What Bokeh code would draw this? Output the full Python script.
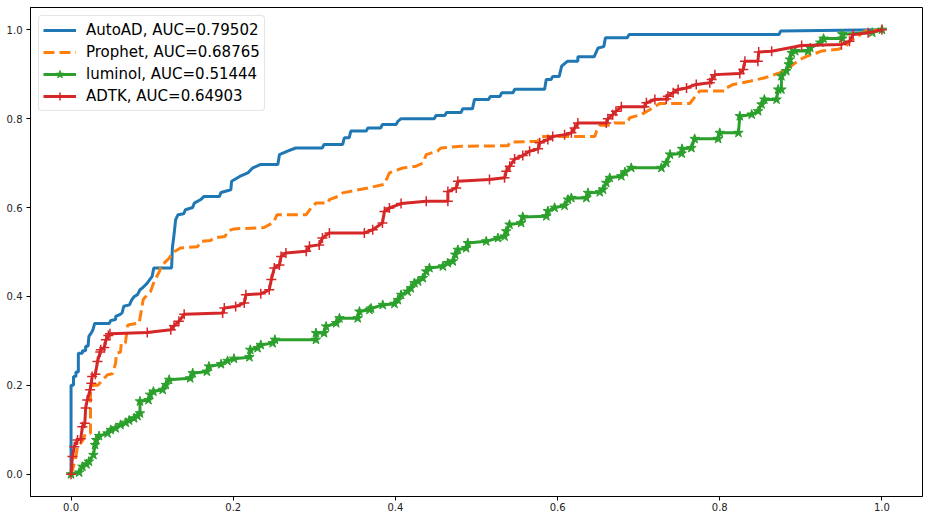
from bokeh.plotting import figure
from bokeh.models import Range1d, FixedTicker, PrintfTickFormatter, Legend, LegendItem
from bokeh.embed import file_html
from bokeh.resources import INLINE

# ---- data ----
autoad_fpr = [0, 0, 0.003, 0.003, 0.006, 0.006, 0.009, 0.009, 0.014, 0.014, 0.018, 0.018, 0.021, 0.022,
              0.025, 0.027, 0.029, 0.047, 0.049, 0.055, 0.055, 0.06, 0.063, 0.065, 0.072, 0.075, 0.078,
              0.082, 0.085, 0.088, 0.094, 0.097, 0.1, 0.102, 0.124, 0.125, 0.127, 0.129, 0.132, 0.139,
              0.141, 0.15, 0.152, 0.16, 0.164, 0.183, 0.185, 0.197, 0.198, 0.208, 0.218, 0.224, 0.234,
              0.255, 0.257, 0.267, 0.277, 0.31, 0.312, 0.335, 0.337, 0.343, 0.345, 0.364, 0.366, 0.382,
              0.384, 0.401, 0.403, 0.407, 0.448, 0.45, 0.461, 0.463, 0.481, 0.483, 0.495, 0.4975, 0.515,
              0.517, 0.529, 0.531, 0.545, 0.547, 0.584, 0.586, 0.592, 0.594, 0.602, 0.605, 0.612, 0.625,
              0.625, 0.645, 0.65, 0.657, 0.659, 0.686, 0.688, 0.873, 0.875, 1.0]
autoad_tpr = [0, 0.2, 0.2, 0.22, 0.22, 0.23, 0.23, 0.272, 0.272, 0.278, 0.278, 0.288, 0.288, 0.31,
              0.318, 0.325, 0.339, 0.339, 0.346, 0.348, 0.355, 0.359, 0.363, 0.378, 0.381, 0.393, 0.4,
              0.404, 0.415, 0.419, 0.43, 0.438, 0.445, 0.464, 0.464, 0.51, 0.539, 0.573, 0.584, 0.586,
              0.595, 0.6, 0.61, 0.618, 0.625, 0.625, 0.634, 0.64, 0.659, 0.67, 0.678, 0.689, 0.697,
              0.697, 0.719, 0.727, 0.734, 0.734, 0.742, 0.742, 0.757, 0.757, 0.772, 0.772, 0.779, 0.779,
              0.787, 0.787, 0.794, 0.8, 0.8, 0.807, 0.807, 0.814, 0.814, 0.822, 0.822, 0.843, 0.843,
              0.85, 0.85, 0.858, 0.858, 0.866, 0.866, 0.888, 0.888, 0.895, 0.895, 0.918, 0.929, 0.929,
              0.939, 0.939, 0.959, 0.962, 0.982, 0.982, 0.989, 0.989, 0.997, 1.0]

prophet_fpr = [0, 0.005, 0.008, 0.014, 0.018, 0.024, 0.024, 0.027, 0.033, 0.038, 0.045, 0.051, 0.055,
               0.056, 0.061, 0.062, 0.067, 0.07, 0.084, 0.089, 0.094, 0.098, 0.1025, 0.109, 0.111, 0.117,
               0.121, 0.125, 0.135, 0.156, 0.16, 0.172, 0.1765, 0.19, 0.193, 0.201, 0.238, 0.25, 0.254,
               0.29, 0.296, 0.302, 0.3166, 0.3186, 0.329, 0.335, 0.366, 0.386, 0.3926, 0.409, 0.4255,
               0.434, 0.438, 0.452, 0.456, 0.481, 0.539, 0.541, 0.576, 0.578, 0.646, 0.648, 0.652, 0.666,
               0.67, 0.686, 0.689, 0.703, 0.7136, 0.726, 0.763, 0.775, 0.806, 0.808, 0.8166, 0.837,
               0.8556, 0.874, 0.882, 0.8906, 0.899, 0.907, 0.9256, 0.946, 0.956, 0.96, 0.971, 0.979, 1.0]
prophet_tpr = [0, 0.03, 0.062, 0.075, 0.092, 0.092, 0.19, 0.2, 0.2, 0.21, 0.224, 0.226, 0.25, 0.272,
               0.275, 0.295, 0.295, 0.336, 0.34, 0.393, 0.404, 0.411, 0.434, 0.456, 0.468, 0.479, 0.486,
               0.498, 0.509, 0.512, 0.524, 0.526, 0.532, 0.535, 0.547, 0.552, 0.555, 0.567, 0.584, 0.584,
               0.599, 0.61, 0.61, 0.618, 0.625, 0.633, 0.644, 0.652, 0.678, 0.689, 0.693, 0.7, 0.719,
               0.727, 0.734, 0.738, 0.739, 0.747, 0.749, 0.76, 0.76, 0.772, 0.785, 0.785, 0.79, 0.79,
               0.802, 0.809, 0.82, 0.834, 0.834, 0.862, 0.862, 0.869, 0.877, 0.884, 0.892, 0.903, 0.911,
               0.922, 0.933, 0.94, 0.952, 0.956, 0.963, 0.974, 0.986, 0.997, 1.0]

luminol_fpr = [0, 0.01, 0.014, 0.019, 0.022, 0.0276, 0.0296, 0.031, 0.0346, 0.045, 0.049, 0.055, 0.061,
               0.0675, 0.0716, 0.0778, 0.082, 0.085, 0.085, 0.0955, 0.0975, 0.1016, 0.113, 0.117, 0.121,
               0.147, 0.15, 0.1675, 0.17, 0.185, 0.193, 0.201, 0.22, 0.221, 0.23, 0.234, 0.2486, 0.2514,
               0.302, 0.302, 0.312, 0.3145, 0.327, 0.331, 0.3535, 0.3556, 0.368, 0.37, 0.3844, 0.3988,
               0.403, 0.407, 0.415, 0.419, 0.4235, 0.428, 0.4338, 0.438, 0.442, 0.4585, 0.4646, 0.4708,
               0.4737, 0.477, 0.4872, 0.4893, 0.512, 0.5264, 0.5346, 0.5366, 0.5407, 0.555, 0.557,
               0.5861, 0.588, 0.5963, 0.6086, 0.6128, 0.617, 0.6355, 0.6375, 0.652, 0.656, 0.66, 0.6643,
               0.6786, 0.683, 0.6908, 0.728, 0.734, 0.7386, 0.753, 0.7535, 0.765, 0.769, 0.798, 0.8,
               0.823, 0.8247, 0.8394, 0.8473, 0.8515, 0.855, 0.87, 0.872, 0.876, 0.876, 0.882, 0.885,
               0.8865, 0.8886, 0.893, 0.909, 0.9115, 0.924, 0.928, 0.951, 0.951, 0.988, 1.0]
luminol_tpr = [0, 0.004, 0.017, 0.0225, 0.0285, 0.0435, 0.066, 0.077, 0.086, 0.092, 0.0998, 0.1036,
               0.111, 0.116, 0.121, 0.126, 0.131, 0.137, 0.164, 0.167, 0.179, 0.186, 0.19, 0.201, 0.2125,
               0.216, 0.2275, 0.231, 0.2425, 0.2477, 0.255, 0.26, 0.2635, 0.28, 0.284, 0.291, 0.295,
               0.3026, 0.3026, 0.3176, 0.3176, 0.3325, 0.34, 0.351, 0.351, 0.366, 0.37, 0.373, 0.381,
               0.3835, 0.392, 0.4036, 0.411, 0.4186, 0.43, 0.4338, 0.4413, 0.4563, 0.464, 0.4676, 0.4752,
               0.479, 0.494, 0.505, 0.5087, 0.52, 0.524, 0.5315, 0.535, 0.5466, 0.5616, 0.5654, 0.579,
               0.5805, 0.592, 0.5995, 0.6043, 0.6178, 0.6216, 0.6216, 0.633, 0.6345, 0.6405, 0.6555,
               0.6668, 0.6705, 0.6795, 0.6893, 0.6893, 0.7005, 0.7193, 0.7215, 0.732, 0.734, 0.7545,
               0.7545, 0.768, 0.768, 0.8056, 0.8093, 0.8168, 0.832, 0.843, 0.843, 0.8655, 0.8655, 0.8955,
               0.907, 0.922, 0.933, 0.948, 0.952, 0.952, 0.959, 0.971, 0.98, 0.98, 0.99, 0.9935, 1.0]

adtk_fpr = [0, 0.0017, 0.004, 0.008, 0.012, 0.014, 0.017, 0.018, 0.02, 0.0235, 0.025, 0.026, 0.03,
            0.0326, 0.036, 0.0367, 0.041, 0.043, 0.046, 0.048, 0.094, 0.123, 0.127, 0.133, 0.1395, 0.187,
            0.189, 0.203, 0.2136, 0.2156, 0.234, 0.2444, 0.247, 0.2506, 0.257, 0.259, 0.265, 0.29, 0.294,
            0.306, 0.31, 0.3186, 0.3617, 0.372, 0.384, 0.3864, 0.3926, 0.407, 0.438, 0.4647, 0.4647,
            0.475, 0.477, 0.516, 0.5346, 0.5367, 0.541, 0.547, 0.557, 0.5655, 0.576, 0.578, 0.588, 0.594,
            0.6086, 0.617, 0.621, 0.625, 0.66, 0.662, 0.668, 0.672, 0.6786, 0.707, 0.7095, 0.72, 0.734,
            0.736, 0.7425, 0.7486, 0.759, 0.771, 0.7877, 0.79, 0.794, 0.8247, 0.829, 0.831, 0.847, 0.848,
            0.864, 0.901, 0.95, 0.96, 0.9645, 0.983, 1.0]
adtk_tpr = [0, 0.04, 0.062, 0.077, 0.08, 0.107, 0.115, 0.149, 0.167, 0.19, 0.205, 0.22, 0.225, 0.2536,
            0.275, 0.28, 0.285, 0.3025, 0.312, 0.316, 0.319, 0.325, 0.334, 0.344, 0.36, 0.3626, 0.374,
            0.3776, 0.385, 0.404, 0.406, 0.415, 0.438, 0.464, 0.471, 0.49, 0.498, 0.5015, 0.513, 0.516,
            0.5315, 0.543, 0.543, 0.55, 0.565, 0.591, 0.599, 0.609, 0.614, 0.614, 0.636, 0.644, 0.659,
            0.663, 0.667, 0.6815, 0.693, 0.709, 0.717, 0.7266, 0.732, 0.7455, 0.753, 0.76, 0.764, 0.768,
            0.779, 0.79, 0.79, 0.7995, 0.809, 0.8167, 0.8266, 0.8266, 0.8356, 0.843, 0.844, 0.8505,
            0.858, 0.8655, 0.869, 0.877, 0.8806, 0.888, 0.899, 0.9016, 0.9106, 0.929, 0.929, 0.95,
            0.9515, 0.9646, 0.967, 0.974, 0.989, 0.993, 1.0]

labels = ["AutoAD, AUC=0.79502", "Prophet, AUC=0.68765", "luminol, AUC=0.51444", "ADTK, AUC=0.64903"]
ticks = [0.0, 0.2, 0.4, 0.6, 0.8, 1.0]

BLUE, ORANGE, GREEN, RED = "#1f77b4", "#ff7f0e", "#2ca02c", "#d62728"

p = figure(width=928, height=518, output_backend="svg", toolbar_location=None,
           x_range=Range1d(-0.05, 1.05), y_range=Range1d(-0.05, 1.05),
           min_border_left=30, min_border_right=6, min_border_top=7, min_border_bottom=22)
p.background_fill_color = "white"
p.border_fill_color = "white"
p.outline_line_color = "black"
p.outline_line_width = 1
p.xgrid.visible = False
p.ygrid.visible = False

for ax in (p.xaxis[0], p.yaxis[0]):
    ax.ticker = FixedTicker(ticks=ticks)
    ax.formatter = PrintfTickFormatter(format="%.1f")
    ax.minor_tick_line_color = None
    ax.major_tick_in = 0
    ax.major_tick_out = 4
    ax.major_tick_line_color = "black"
    ax.axis_line_color = "black"
    ax.major_label_text_font = "DejaVu Sans"
    ax.major_label_text_font_size = "10px"
    ax.major_label_text_color = "#222222"
p.xaxis[0].major_label_standoff = 2
p.yaxis[0].major_label_standoff = 4

r_a = p.line(autoad_fpr, autoad_tpr, line_color=BLUE, line_width=3)
r_p = p.line(prophet_fpr, prophet_tpr, line_color=ORANGE, line_width=3, line_dash="11 5")
r_l = p.line(luminol_fpr, luminol_tpr, line_color=GREEN, line_width=3)
r_ls = p.scatter(luminol_fpr, luminol_tpr, marker="star", size=10, fill_color=GREEN, line_color=GREEN)
r_d = p.line(adtk_fpr, adtk_tpr, line_color=RED, line_width=3)
r_ds = p.scatter(adtk_fpr, adtk_tpr, marker="cross", size=10, line_color=RED, line_width=1.5)

legend = Legend(items=[
    LegendItem(label=labels[0], renderers=[r_a]),
    LegendItem(label=labels[1], renderers=[r_p]),
    LegendItem(label=labels[2], renderers=[r_l, r_ls]),
    LegendItem(label=labels[3], renderers=[r_d, r_ds]),
], location="top_left")
legend.margin = 8
legend.padding = 4
legend.spacing = 2
legend.glyph_width = 33
legend.glyph_height = 20
legend.label_height = 20
legend.label_standoff = 10
legend.label_text_font = "DejaVu Sans"
legend.label_text_font_size = "15px"
legend.label_text_color = "black"
legend.border_line_color = "#cccccc"
legend.border_line_width = 1
legend.background_fill_color = "white"
legend.background_fill_alpha = 0.8
try:
    legend.border_radius = 4
except Exception:
    pass
p.add_layout(legend, "center")

open("out.html", "w").write(file_html(p, INLINE))
